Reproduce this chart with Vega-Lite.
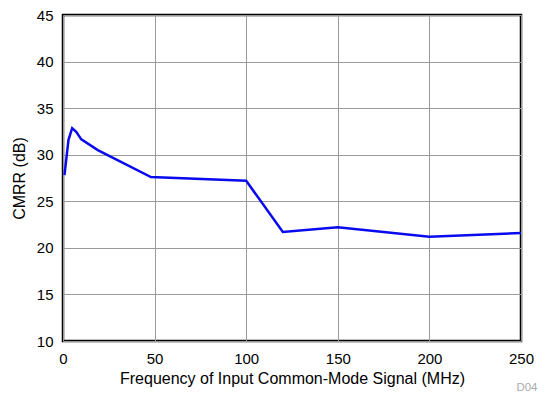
{
  "$schema": "https://vega.github.io/schema/vega-lite/v6.json",
  "width": 458,
  "height": 326,
  "autosize": {"type": "none"},
  "padding": {"left": 63, "top": 15, "right": 18, "bottom": 54},
  "background": "white",
  "config": {
    "font": "Liberation Sans",
    "view": {"stroke": "black", "strokeWidth": 2.5},
    "axis": {
      "grid": true,
      "gridColor": "#9a9a9a",
      "gridWidth": 1,
      "domain": false,
      "ticks": false,
      "labelFlush": false,
      "labelOverlap": false,
      "labelFont": "Liberation Sans",
      "labelFontSize": 15,
      "labelColor": "black",
      "titleFont": "Liberation Sans",
      "titleFontSize": 16,
      "titleFontWeight": "normal",
      "titleColor": "black"
    }
  },
  "title": {
    "text": "D04",
    "orient": "bottom",
    "anchor": "end",
    "fontSize": 11.5,
    "fontWeight": "normal",
    "color": "#aaaaaa",
    "font": "Liberation Sans",
    "offset": -4,
    "dx": 4
  },
  "data": {
    "values": [
      {"f": 0.8, "cmrr": 27.8},
      {"f": 3, "cmrr": 31.6},
      {"f": 5, "cmrr": 32.85},
      {"f": 7.2, "cmrr": 32.45},
      {"f": 10, "cmrr": 31.65},
      {"f": 19, "cmrr": 30.5},
      {"f": 48, "cmrr": 27.6},
      {"f": 100, "cmrr": 27.2},
      {"f": 120, "cmrr": 21.7},
      {"f": 150, "cmrr": 22.2},
      {"f": 200, "cmrr": 21.2},
      {"f": 250, "cmrr": 21.6}
    ]
  },
  "mark": {"type": "line", "color": "#0a0aee", "strokeWidth": 2.5, "clip": true},
  "encoding": {
    "x": {
      "field": "f",
      "type": "quantitative",
      "scale": {"domain": [0, 250], "nice": false},
      "axis": {"values": [0, 50, 100, 150, 200, 250], "title": "Frequency of Input Common-Mode Signal (MHz)", "labelPadding": 10, "titlePadding": 4}
    },
    "y": {
      "field": "cmrr",
      "type": "quantitative",
      "scale": {"domain": [10, 45], "nice": false, "zero": false},
      "axis": {"values": [10, 15, 20, 25, 30, 35, 40, 45], "title": "CMRR (dB)", "labelPadding": 10, "titlePadding": 9}
    }
  }
}
